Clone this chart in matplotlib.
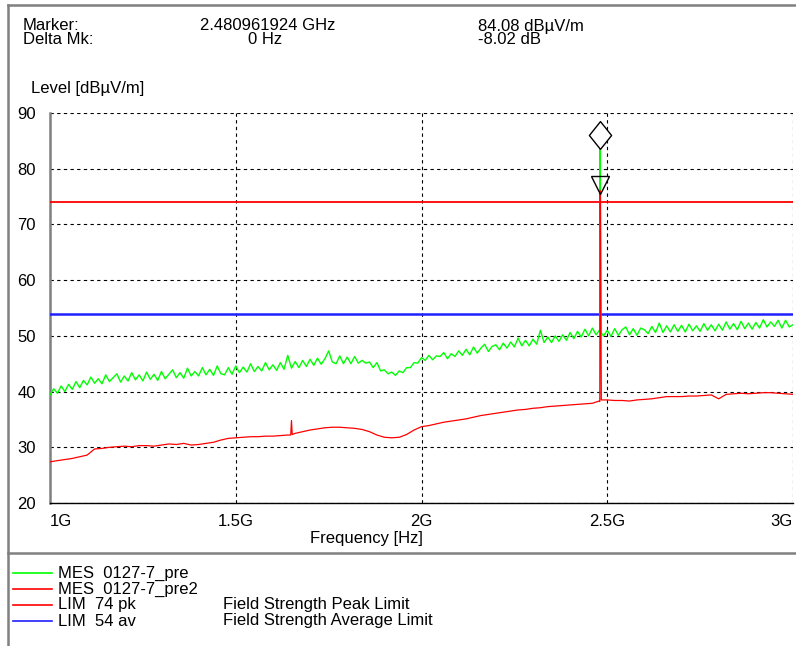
import matplotlib
matplotlib.use("Agg")
import matplotlib.pyplot as plt
import matplotlib.transforms as mtransforms
from matplotlib.lines import Line2D
from matplotlib.path import Path
import numpy as np

plt.rcParams['font.family'] = ['Liberation Sans', 'DejaVu Sans']

# sweep 1 GHz .. 3 GHz, green every 10 MHz, red every 20 MHz
green_level = [
    39.4, 40.5, 39.7, 41.0, 40.0, 41.3, 40.4, 41.8, 40.7, 42.0,
    41.2, 42.6, 41.5, 42.3, 41.4, 43.0, 41.8, 42.5, 43.2, 41.7,
    42.8, 41.9, 43.4, 42.1, 43.0, 41.9, 43.5, 42.2, 43.1, 42.0,
    43.6, 42.3, 43.1, 43.9, 42.5, 43.4, 42.4, 44.2, 42.8, 43.6,
    42.8, 44.3, 43.0, 44.0, 42.9, 44.6, 43.2, 43.0, 44.3, 43.1,
    44.6, 43.4, 44.4, 43.5, 45.0, 43.6, 44.5, 43.7, 45.2, 43.9,
    44.8, 43.8, 45.2, 44.0, 46.5, 44.2, 45.4, 44.3, 45.6, 44.5,
    45.8, 44.7, 46.0, 44.9, 45.9, 47.3, 45.3, 45.0, 46.4, 45.0,
    46.2, 45.0, 46.3, 45.1, 45.6, 45.1, 45.3, 44.3, 45.2, 43.7,
    43.9, 43.2, 43.5, 42.9, 43.7, 43.4, 44.3, 44.3, 45.2, 45.1,
    46.1, 45.6, 46.5, 45.7, 46.4, 46.3, 47.0, 45.9, 46.8, 46.3,
    47.3, 46.5, 47.6, 46.6, 48.0, 46.9, 47.8, 48.5, 47.2, 48.1,
    48.4, 47.5, 48.7, 47.8, 48.9, 48.0, 49.6, 48.2, 49.2, 48.2,
    49.4, 48.5, 51.0, 48.8, 49.8, 48.8, 50.0, 49.0, 50.2, 49.2,
    50.6, 49.5, 50.8, 49.8, 51.2, 50.0, 51.4, 50.2, 50.9, 50.0,
    51.0, 49.9, 51.3, 50.1, 51.1, 51.6, 50.2, 51.3, 50.1, 51.4,
    51.1, 50.4, 51.7, 50.6, 52.3, 50.6, 51.8, 50.7, 52.0, 50.8,
    51.9, 50.7, 52.1, 50.9, 51.8, 50.8, 52.2, 51.0, 52.0, 50.9,
    52.1, 51.0, 52.5, 51.2, 52.2, 51.1, 52.6, 51.3, 52.3, 51.2,
    52.4, 51.4, 52.9, 51.6, 52.5, 51.7, 52.8, 51.4, 52.8, 51.6,
    52.0,
]
red_level = [
    27.4, 27.6, 27.8, 28.0, 28.3, 28.6, 29.7, 29.8, 30.0, 30.1,
    30.2, 30.1, 30.3, 30.3, 30.2, 30.4, 30.6, 30.5, 30.7, 30.4,
    30.5, 30.7, 30.9, 31.3, 31.6, 31.7, 31.8, 31.9, 31.9, 32.0,
    32.0, 32.1, 32.2, 32.5, 32.8, 33.1, 33.3, 33.5, 33.6, 33.6,
    33.5, 33.4, 33.2, 32.8, 32.2, 31.8, 31.7, 31.8, 32.3, 33.1,
    33.7, 33.9, 34.2, 34.5, 34.7, 34.9, 35.1, 35.4, 35.7, 35.9,
    36.1, 36.3, 36.5, 36.7, 36.8, 37.0, 37.1, 37.3, 37.4, 37.5,
    37.6, 37.7, 37.8, 37.9, 38.2, 38.5, 38.4, 38.4, 38.3, 38.5,
    38.6, 38.7, 38.9, 39.1, 39.1, 39.1, 39.2, 39.2, 39.3, 39.4,
    38.7, 39.5, 39.6, 39.7, 39.6, 39.7, 39.8, 39.8, 39.7, 39.6,
    39.5,
]
# narrow features between grid points
green_extra_freq = [2.479, 2.481, 2.483]
green_extra_level = [51.0, 84.08, 50.6]
red_extra_freq = [1.648, 1.650, 1.652, 2.478, 2.4805, 2.4815, 2.484]
red_extra_level = [32.2, 34.8, 32.3, 38.3, 76.06, 76.0, 38.5]

limit_pk = 74
limit_av = 54
marker_freq = 2.480961924
marker_level = 84.08
delta_level = -8.02

legend_rows = [
    ("MES  0127-7_pre", "", "#00ff00"),
    ("MES  0127-7_pre2", "", "#ff0000"),
    ("LIM  74 pk", "Field Strength Peak Limit", "#ff0000"),
    ("LIM  54 av", "Field Strength Average Limit", "#2020ff"),
]
xticks = [1.0, 1.5, 2.0, 2.5, 3.0]
xticklabels = ["1G", "1.5G", "2G", "2.5G", "3G"]
yticks = [20, 30, 40, 50, 60, 70, 80, 90]


def merge(f1, v1, f2, v2):
    f = np.concatenate([f1, f2])
    v = np.concatenate([v1, v2])
    order = np.argsort(f, kind="stable")
    return f[order], v[order]


W, H = 796, 646
fig = plt.figure(figsize=(W / 100, H / 100), dpi=100)

def fx(px):
    return px / W

def fy(py):
    return 1 - py / H

ax = fig.add_axes([fx(50), fy(503), fx(793) - fx(50), fy(113) - fy(503)])

gf, gv = merge(np.linspace(1, 3, len(green_level)), green_level,
               green_extra_freq, green_extra_level)
rf, rv = merge(np.linspace(1, 3, len(red_level)), red_level,
               red_extra_freq, red_extra_level)

ax.axhline(limit_pk, color="#ff0000", lw=1.3, zorder=3)
ax.axhline(limit_av, color="#2020ff", lw=1.8, zorder=3)
ax.plot(gf, gv, color="#00ff00", lw=1.0, zorder=4)
ax.plot(rf, rv, color="#ff0000", lw=0.9, zorder=4)

# marker symbols sit above the point
diamond = Path([(0, -1), (0.8, 0), (0, 1), (-0.8, 0), (0, -1)],
               [Path.MOVETO, Path.LINETO, Path.LINETO, Path.LINETO, Path.CLOSEPOLY])
up = mtransforms.offset_copy(ax.transData, fig=fig, x=0, y=11, units="dots")
ax.plot([marker_freq], [marker_level], marker=diamond, ms=20, mfc="white",
        mec="black", mew=1, transform=up, zorder=6, clip_on=False)
up2 = mtransforms.offset_copy(ax.transData, fig=fig, x=0, y=6, units="dots")
ax.plot([marker_freq], [marker_level + delta_level], marker="v", ms=13,
        mfc="none", mec="black", mew=1, transform=up2, zorder=6)

ax.set_xlim(1, 3)
ax.set_ylim(20, 90)
ax.set_xticks(xticks)
ax.set_xticklabels(xticklabels)
ax.set_yticks(yticks)
for lab, ha in zip(ax.get_xticklabels(), ["left", "center", "center", "center", "right"]):
    lab.set_ha(ha)
ax.tick_params(length=0, labelsize=12, colors="black")
ax.tick_params(axis="x", pad=8)
ax.tick_params(axis="y", pad=10)
ax.grid(True, color="black", lw=0.8, ls=(0, (3, 3)))
ax.set_axisbelow(True)
for s in ["top", "right"]:
    ax.spines[s].set_visible(False)
ax.spines["left"].set_color("#808080")
ax.spines["left"].set_linewidth(1.8)
ax.spines["bottom"].set_color("black")
ax.spines["bottom"].set_linewidth(1)

# outer frame
fig.add_artist(Line2D([fx(8), 1], [fy(5), fy(5)], color="#808080", lw=1.8))
fig.add_artist(Line2D([fx(8), fx(8)], [fy(5), 0], color="#808080", lw=1.8))
fig.add_artist(Line2D([fx(8), 1], [fy(553), fy(553)], color="#808080", lw=1.8))

fs = 12
fig.text(fx(23), fy(26), "Marker:", fontsize=fs, va="center")
fig.text(fx(23), fy(40), "Delta Mk:", fontsize=fs, va="center")
fig.text(fx(200), fy(26), "%.9f GHz" % marker_freq, fontsize=fs, va="center")
fig.text(fx(265), fy(40), "0 Hz", fontsize=fs, va="center", ha="center")
fig.text(fx(478), fy(26), "%.2f dBµV/m" % marker_level, fontsize=fs, va="center")
fig.text(fx(478), fy(40), "%.2f dB" % delta_level, fontsize=fs, va="center")
fig.text(fx(31), fy(89), "Level [dBµV/m]", fontsize=fs, va="center")
fig.text(fx(366), fy(539), "Frequency [Hz]", fontsize=fs, va="center", ha="center")

for i, (name, desc, col) in enumerate(legend_rows):
    y = fy(573 + 16 * i)
    fig.add_artist(Line2D([fx(13), fx(52)], [y, y], color=col, lw=1.2))
    fig.text(fx(58), y, name, fontsize=fs, va="center")
    if desc:
        fig.text(fx(223), y, desc, fontsize=fs, va="center")

fig.savefig("out.png", dpi=100)
